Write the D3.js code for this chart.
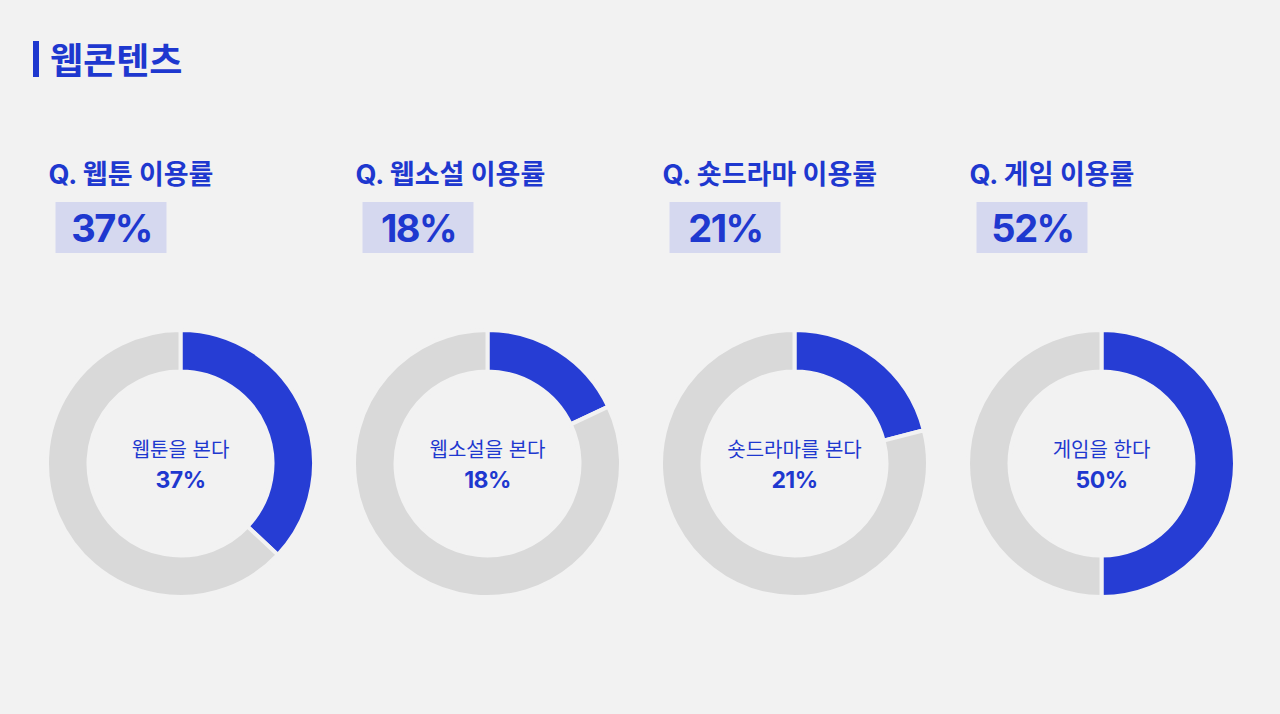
<!DOCTYPE html>
<html>
<head>
<meta charset="utf-8">
<script src="https://cdn.jsdelivr.net/npm/d3@7"></script>
<style>
  body { margin: 0; background: #f2f2f2; }
  svg { display: block; font-family: Inter, "Noto Sans CJK KR", "Noto Sans", sans-serif; }
</style>
</head>
<body>
<div id="chart"></div>
<script>
'use strict'

// data
const categories = ['웹툰', '웹소설', '숏드라마', '게임']
const usageRates = [37, 18, 21, 52]
const centerLabels = ['웹툰을 본다', '웹소설을 본다', '숏드라마를 본다', '게임을 한다']
const donutValues = [37, 18, 21, 50]

const width = 1280, height = 714
const blue = '#263dd4', textBlue = '#1e38cf', grey = '#d9d9d9', bg = '#f2f2f2'

const svg = d3.select('#chart')
    .append('svg')
    .attr('width', width)
    .attr('height', height)
    .attr('viewBox', `0 0 ${width} ${height}`)

svg.append('rect').attr('width', width).attr('height', height).attr('fill', bg)

// title
svg.append('rect')
    .attr('x', 33).attr('y', 41).attr('width', 6).attr('height', 36)
    .attr('fill', textBlue)
svg.append('text')
    .attr('x', 50).attr('y', 74)
    .attr('font-size', 36).attr('font-weight', 700)
    .attr('fill', textBlue)
    .text('웹콘텐츠')

// column positions
const x = d3.scalePoint()
    .domain(categories)
    .range([180.5, 1101.5])

const outerR = 133.5, innerR = 92

const pie = d3.pie().sort(null).value(d => d)
const arc = d3.arc().innerRadius(innerR).outerRadius(outerR)

const col = svg.selectAll('g.col')
    .data(categories)
    .join('g')
    .attr('class', 'col')
    .attr('transform', d => `translate(${x(d)},0)`)

// question
col.append('text')
    .attr('x', -132).attr('y', 184)
    .attr('font-size', 27).attr('font-weight', 700)
    .attr('fill', textBlue)
    .text(d => `Q. ${d} 이용률`)

// rate box
col.append('rect')
    .attr('x', -125).attr('y', 202).attr('width', 111).attr('height', 51)
    .attr('fill', '#d5d8ef')
col.append('text')
    .attr('x', -69).attr('y', 242)
    .attr('text-anchor', 'middle')
    .attr('font-size', 38).attr('font-weight', 700)
    .attr('letter-spacing', -1.5)
    .attr('fill', textBlue)
    .text((d, i) => usageRates[i] + '%')

// donuts
const donut = col.append('g')
    .attr('transform', 'translate(0,463.5)')

donut.selectAll('path')
    .data((d, i) => pie([donutValues[i], 100 - donutValues[i]]))
    .join('path')
    .attr('d', arc)
    .attr('fill', (d, i) => i === 0 ? blue : grey)
    .attr('stroke', bg)
    .attr('stroke-width', 4)

donut.append('text')
    .attr('y', -7)
    .attr('text-anchor', 'middle')
    .attr('font-size', 20)
    .attr('fill', textBlue)
    .text((d, i) => centerLabels[i])
donut.append('text')
    .attr('y', 24)
    .attr('text-anchor', 'middle')
    .attr('font-size', 23).attr('font-weight', 700)
    .attr('letter-spacing', -0.5)
    .attr('fill', textBlue)
    .text((d, i) => donutValues[i] + '%')
</script>
</body>
</html>
